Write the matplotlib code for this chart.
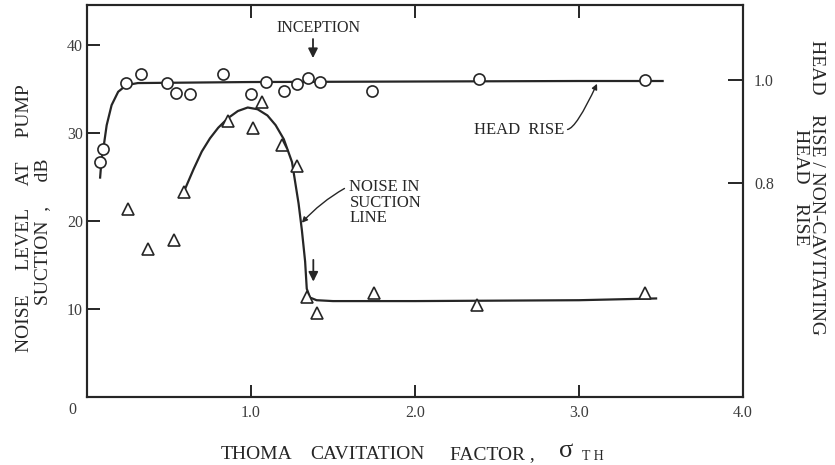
import matplotlib
matplotlib.use("Agg")
import matplotlib.pyplot as plt

# head rise ratio (right axis), open circles
head_x = [0.08, 0.10, 0.24, 0.33, 0.49, 0.54, 0.63, 0.83, 1.00, 1.09, 1.20, 1.28, 1.35, 1.42, 1.74, 2.39, 3.40]
head_y = [0.840, 0.866, 0.994, 1.012, 0.995, 0.974, 0.972, 1.011, 0.972, 0.997, 0.979, 0.992, 1.003, 0.997, 0.979, 1.002, 0.999]
# hand drawn head rise curve
head_fit_x = [0.08, 0.085, 0.09, 0.10, 0.12, 0.15, 0.19, 0.24, 0.31, 1.0, 2.0, 3.0, 3.51]
head_fit_y = [0.81, 0.83, 0.848, 0.867, 0.912, 0.951, 0.977, 0.990, 0.994, 0.996, 0.997, 0.998, 0.998]

# noise level in suction line (left axis, dB), open triangles
noise_x = [0.25, 0.37, 0.53, 0.59, 0.86, 1.01, 1.07, 1.19, 1.28, 1.34, 1.40, 1.75, 2.38, 3.40]
noise_y = [21.4, 16.8, 17.8, 23.3, 31.4, 30.6, 33.5, 28.6, 26.3, 11.4, 9.6, 11.8, 10.4, 11.8]
# hand drawn noise curve
noise_fit_x = [0.59, 0.65, 0.70, 0.75, 0.80, 0.86, 0.92, 0.98, 1.04, 1.10, 1.15, 1.20, 1.25, 1.29,
               1.31, 1.33, 1.34, 1.36, 1.40, 1.50, 2.0, 3.0, 3.47]
noise_fit_y = [23.3, 25.9, 27.9, 29.4, 30.6, 31.7, 32.5, 32.9, 32.7, 32.0, 30.9, 29.3, 26.7, 22.0,
               19.0, 15.4, 12.3, 11.3, 11.0, 10.9, 10.9, 11.0, 11.2]

x_ticks = [1.0, 2.0, 3.0, 4.0]
x_ticklabels = ["1.0", "2.0", "3.0", "4.0"]
left_ticks = [10, 20, 30, 40]
right_ticks = [0.8, 1.0]
right_ticklabels = ["0.8", "1.0"]

ink = "#262626"
grey = "#3c3c3c"
plt.rcParams["font.family"] = ["Liberation Serif", "DejaVu Serif"]

W, H = 835, 465
fig = plt.figure(figsize=(W / 100, H / 100), dpi=100)
ax = fig.add_axes([87 / W, 1 - 397 / H, (743 - 87) / W, (397 - 5) / H])
ax2 = ax.twinx()

ax.set_xlim(0, 4.0)
ax.set_ylim(0, 44.55)
ax2.set_ylim(0.3827, 1.146)

for a in (ax, ax2):
    for s in a.spines.values():
        s.set_linewidth(1.5)
        s.set_color(ink)

ax.set_xticks(x_ticks)
ax.set_xticklabels(x_ticklabels)
ax.set_yticks(left_ticks)
ax.tick_params(axis="both", direction="in", length=9, width=1.4, color=ink,
               labelsize=11.5, labelcolor=grey, top=True)
ax.tick_params(axis="x", pad=6)
ax.tick_params(axis="y", pad=3)
ax2.set_yticks(right_ticks)
ax2.set_yticklabels(right_ticklabels)
ax2.tick_params(axis="y", direction="in", length=11, width=1.4, color=ink,
                labelsize=11.5, labelcolor=grey, pad=8)
ax.text(-0.09, -1.5, "0", ha="center", va="center", fontsize=11.5, color=grey, clip_on=False)

# curves and points
ax.plot(noise_fit_x, noise_fit_y, color=ink, lw=1.6, zorder=2)
ax.plot(noise_x, noise_y, linestyle="none", marker="^", markersize=8, markerfacecolor="white",
        markeredgecolor=ink, markeredgewidth=1.2, zorder=3)
ax2.plot(head_fit_x, head_fit_y, color=ink, lw=1.6, zorder=2)
ax2.plot(head_x, head_y, linestyle="none", marker="o", markersize=8, markerfacecolor="white",
         markeredgecolor=ink, markeredgewidth=1.2, zorder=3)

# annotations
ax.text(1.41, 41.9, "INCEPTION", ha="center", va="center", fontsize=11.5, color=ink)
ax.annotate("", xy=(1.378, 38.2), xytext=(1.378, 41.0),
            arrowprops=dict(arrowstyle="-|>", color=ink, lw=1.3, mutation_scale=14))
ax.annotate("", xy=(1.38, 12.8), xytext=(1.38, 15.9),
            arrowprops=dict(arrowstyle="-|>", color=ink, lw=1.3, mutation_scale=14))
ax.text(1.60, 22.1, "NOISE IN\nSUCTION\nLINE", ha="left", va="center", fontsize=12,
        color=ink, linespacing=0.95)
ax.annotate("", xy=(1.31, 19.8), xytext=(1.57, 23.7),
            arrowprops=dict(arrowstyle="-|>", color=ink, lw=1.0, mutation_scale=8,
                            connectionstyle="arc3,rad=0.08", shrinkA=0, shrinkB=0))
ax.text(2.91, 30.3, "HEAD  RISE", ha="right", va="center", fontsize=12, color=ink)
ax.annotate("", xy=(3.11, 35.6), xytext=(2.93, 30.4),
            arrowprops=dict(arrowstyle="-|>", color=ink, lw=1.0, mutation_scale=8,
                            connectionstyle="angle3,angleA=10,angleB=65", shrinkA=0, shrinkB=0))

# x axis label, word by word as in the original
lab = dict(fontsize=14, color=ink, va="baseline", ha="left")
fig.text(221 / W, 1 - 459 / H, "THOMA", **lab)
fig.text(310 / W, 1 - 459 / H, "CAVITATION", **lab)
fig.text(450 / W, 1 - 459 / H, "FACTOR ,", **lab)
fig.text(559 / W, 1 - 457 / H, "σ", fontsize=19, color=ink, va="baseline", ha="left")
fig.text(582 / W, 1 - 460 / H, "T H", fontsize=10, color=ink, va="baseline", ha="left")

# left axis label
fig.text(25 / W, 1 - 218 / H, "NOISE     LEVEL     AT     PUMP", fontsize=14, color=ink,
         rotation=90, ha="center", va="center")
fig.text(43 / W, 1 - 232 / H, "SUCTION  ,     dB", fontsize=14, color=ink,
         rotation=90, ha="center", va="center")

# right axis label
fig.text(817 / W, 1 - 187 / H, "HEAD    RISE / NON-CAVITATING", fontsize=14, color=ink,
         rotation=270, ha="center", va="center")
fig.text(800 / W, 1 - 187 / H, "HEAD    RISE", fontsize=14, color=ink,
         rotation=270, ha="center", va="center")

fig.savefig("out.png", dpi=100)
plt.close(fig)
